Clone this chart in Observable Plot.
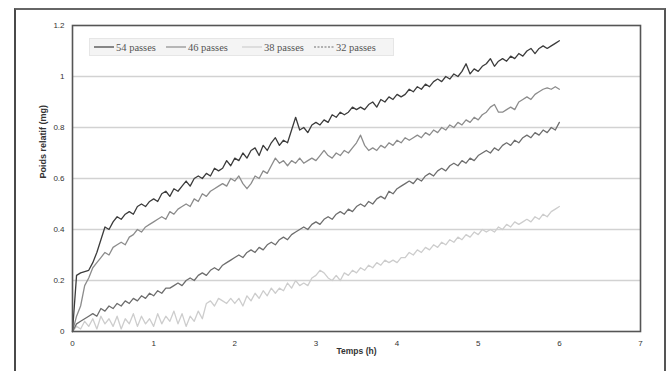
<!DOCTYPE html>
<html>
<head>
<meta charset="utf-8">
<script src="https://cdn.jsdelivr.net/npm/d3@7"></script>
<script src="https://cdn.jsdelivr.net/npm/@observablehq/plot@0.6"></script>
<style>
  html, body { margin: 0; padding: 0; background: #fff; }
  #wrap { position: relative; width: 668px; height: 371px; overflow: hidden; background: #fff; }
  #outer { position: absolute; left: 14px; top: 8px; width: 648px; height: 400px;
           border-left: 2px solid #4a4a4a; border-top: 2px solid #666; border-right: 2px solid #555; }
  #chart { position: absolute; left: 0; top: 0; }
  #legend { position: absolute; left: 89px; top: 38px; width: 303px; height: 16px;
            background: #f4f4f4; border: 1px solid #e6e6e6;
            font-family: "Liberation Serif", "DejaVu Serif", serif; font-size: 10.5px; color: #555;
            display: flex; align-items: center; white-space: nowrap; }
  #legend .item { display: inline-flex; align-items: center; margin-right: 4px; }
  #legend svg { margin-right: 2px; }
</style>
</head>
<body>
<div id="wrap">
  <div id="outer"></div>
  <div id="chart"></div>
  <div id="legend"></div>
</div>
<script>
// Sampling grid (hours), every 0.05 h from 0 to 6
const hours = d3.range(121).map(i => Math.round(i * 5) / 100);

const seriesNames = ["54 passes", "46 passes", "38 passes", "32 passes"];
const seriesColors = ["#3c3c3c", "#8c8c8c", "#cdcdcd", "#6e6e6e"];

const passes54 = [
  0, 0.22, 0.23, 0.235, 0.24, 0.27, 0.31, 0.36, 0.41, 0.40,
  0.43, 0.45, 0.44, 0.46, 0.47, 0.46, 0.49, 0.50, 0.49, 0.51,
  0.52, 0.51, 0.54, 0.55, 0.53, 0.56, 0.55, 0.57, 0.59, 0.57,
  0.60, 0.61, 0.60, 0.62, 0.61, 0.64, 0.63, 0.64, 0.67, 0.65,
  0.68, 0.67, 0.70, 0.68, 0.71, 0.72, 0.69, 0.73, 0.71, 0.74,
  0.76, 0.73, 0.75, 0.74, 0.79, 0.84, 0.79, 0.80, 0.78, 0.81,
  0.82, 0.81, 0.83, 0.82, 0.85, 0.84, 0.86, 0.85, 0.86, 0.88,
  0.87, 0.88, 0.87, 0.89, 0.90, 0.88, 0.91, 0.90, 0.92, 0.91,
  0.93, 0.92, 0.93, 0.95, 0.94, 0.96, 0.95, 0.97, 0.96, 0.98,
  0.99, 0.98, 1.00, 0.99, 1.01, 1.00, 1.02, 1.05, 1.01, 1.03,
  1.02, 1.04, 1.05, 1.07, 1.04, 1.06, 1.07, 1.06, 1.08, 1.07,
  1.09, 1.08, 1.10, 1.11, 1.09, 1.11, 1.12, 1.11, 1.12, 1.13,
  1.14
];

const passes46 = [
  0, 0.06, 0.10, 0.18, 0.21, 0.25, 0.27, 0.29, 0.31, 0.30,
  0.33, 0.34, 0.35, 0.34, 0.37, 0.38, 0.40, 0.39, 0.41, 0.42,
  0.43, 0.44, 0.45, 0.44, 0.47, 0.46, 0.48, 0.49, 0.50, 0.49,
  0.52, 0.51, 0.54, 0.53, 0.55, 0.56, 0.57, 0.58, 0.57, 0.60,
  0.59, 0.61, 0.58, 0.56, 0.58, 0.61, 0.60, 0.63, 0.62, 0.65,
  0.68, 0.66, 0.67, 0.65, 0.67, 0.66, 0.68, 0.66, 0.67, 0.68,
  0.67, 0.69, 0.71, 0.69, 0.68, 0.70, 0.69, 0.71, 0.70, 0.72,
  0.74, 0.77, 0.73, 0.71, 0.72, 0.71, 0.73, 0.72, 0.74, 0.73,
  0.75, 0.74, 0.76, 0.75, 0.76, 0.77, 0.76, 0.78, 0.77, 0.79,
  0.78, 0.80, 0.79, 0.81, 0.80, 0.82, 0.81, 0.83, 0.82, 0.84,
  0.83, 0.85, 0.86, 0.88, 0.89, 0.86, 0.86, 0.87, 0.88, 0.87,
  0.90, 0.91, 0.92, 0.91, 0.93, 0.94, 0.95, 0.955, 0.95, 0.96,
  0.95
];

const passes38 = [
  0, 0.02, 0.01, 0.04, 0.02, 0.05, 0.01, 0.06, 0.03, 0.05,
  0.02, 0.06, 0.01, 0.05, 0.03, 0.07, 0.02, 0.06, 0.03, 0.05,
  0.02, 0.07, 0.03, 0.06, 0.04, 0.08, 0.03, 0.07, 0.02, 0.06,
  0.04, 0.08, 0.05, 0.11, 0.12, 0.10, 0.13, 0.12, 0.11, 0.13,
  0.11, 0.13, 0.10, 0.14, 0.12, 0.15, 0.13, 0.16, 0.14, 0.17,
  0.15, 0.17, 0.16, 0.19, 0.17, 0.20, 0.18, 0.19, 0.18, 0.21,
  0.22, 0.24, 0.23, 0.21, 0.20, 0.22, 0.20, 0.23, 0.22, 0.24,
  0.23, 0.25, 0.24, 0.26, 0.25, 0.27, 0.26, 0.28, 0.27, 0.28,
  0.27, 0.29, 0.29, 0.31, 0.30, 0.32, 0.31, 0.33, 0.32, 0.34,
  0.33, 0.35, 0.34, 0.36, 0.35, 0.37, 0.36, 0.38, 0.37, 0.39,
  0.38, 0.40, 0.39, 0.40, 0.39, 0.41, 0.40, 0.42, 0.41, 0.43,
  0.42, 0.43, 0.44, 0.43, 0.45, 0.44, 0.46, 0.45, 0.47, 0.48,
  0.49
];

const passes32 = [
  0, 0.03, 0.04, 0.05, 0.06, 0.07, 0.06, 0.09, 0.08, 0.10,
  0.09, 0.11, 0.10, 0.12, 0.11, 0.13, 0.12, 0.14, 0.13, 0.15,
  0.14, 0.16, 0.15, 0.17, 0.17, 0.18, 0.19, 0.18, 0.20, 0.21,
  0.20, 0.22, 0.23, 0.22, 0.24, 0.25, 0.24, 0.26, 0.27, 0.28,
  0.29, 0.30, 0.29, 0.31, 0.32, 0.31, 0.33, 0.32, 0.34, 0.35,
  0.34, 0.36, 0.37, 0.36, 0.38, 0.39, 0.40, 0.41, 0.40, 0.42,
  0.43, 0.42, 0.44, 0.45, 0.44, 0.46, 0.47, 0.46, 0.48, 0.47,
  0.49, 0.50, 0.49, 0.51, 0.50, 0.52, 0.53, 0.52, 0.55, 0.54,
  0.56, 0.57, 0.58, 0.59, 0.58, 0.60, 0.59, 0.61, 0.62, 0.61,
  0.63, 0.64, 0.63, 0.65, 0.66, 0.65, 0.67, 0.66, 0.68, 0.67,
  0.69, 0.70, 0.71, 0.70, 0.72, 0.71, 0.73, 0.74, 0.73, 0.75,
  0.74, 0.76, 0.77, 0.76, 0.78, 0.77, 0.79, 0.78, 0.80, 0.79,
  0.82
];

const xTicks = [0, 1, 2, 3, 4, 5, 6, 7];
const yTicks = [0, 0.2, 0.4, 0.6, 0.8, 1, 1.2];
const gridValues = [0.2, 0.4, 0.6, 0.8, 1];

const seriesValues = [passes54, passes46, passes38, passes32];
const rows = [];
seriesNames.forEach((name, s) => {
  seriesValues[s].forEach((v, i) => rows.push({series: name, t: hours[i], v}));
});
// draw order: light first, dark last
const drawOrder = ["38 passes", "32 passes", "46 passes", "54 passes"];

const chart = Plot.plot({
  width: 668,
  height: 371,
  marginLeft: 72,
  marginRight: 28,
  marginTop: 25,
  marginBottom: 40,
  style: {background: "transparent", fontFamily: "Liberation Sans, Arial, sans-serif"},
  x: {domain: [0, 7], label: null},
  y: {domain: [0, 1.2], label: null},
  color: {domain: seriesNames, range: seriesColors},
  marks: [
    Plot.ruleY(gridValues, {stroke: "#d2d2d2", strokeWidth: 1.6}),
    ...drawOrder.map(name => Plot.line(rows.filter(d => d.series === name), {
      x: "t", y: "v", stroke: "series", strokeWidth: 1.3, strokeLinejoin: "round"
    })),
    Plot.frame({stroke: "#555", strokeWidth: 1.6}),
    Plot.axisX({ticks: xTicks, tickSize: 0, tickPadding: 9, fontSize: 8, fill: "#333", label: null,
                tickFormat: d => String(d)}),
    Plot.axisY({ticks: yTicks, tickSize: 0, tickPadding: 8, fontSize: 8, fill: "#333", label: null,
                tickFormat: d => String(+d.toFixed(1))}),
    Plot.text(["Temps (h)"], {frameAnchor: "bottom", dy: 22, fontSize: 8.5, fontWeight: "bold", fill: "#333"}),
    Plot.text(["Poids relatif (mg)"], {frameAnchor: "left", dx: -29, rotate: -90, fontSize: 9, fontWeight: "bold", fill: "#333"})
  ]
});
document.getElementById("chart").appendChild(chart);

// Legend
const legend = document.getElementById("legend");
const legendDash = [null, null, null, "2,1.5"];
const gaps = [4, 6, 10, 6];
seriesNames.forEach((name, i) => {
  const item = document.createElement("span");
  item.className = "item";
  item.style.marginLeft = gaps[i] + "px";
  item.innerHTML = `<svg width="20" height="8"><line x1="0" y1="4" x2="20" y2="4" stroke="${seriesColors[i]}" stroke-width="1.2" ${legendDash[i] ? `stroke-dasharray="${legendDash[i]}"` : ""}/></svg><span>${name}</span>`;
  legend.appendChild(item);
});
</script>
</body>
</html>
